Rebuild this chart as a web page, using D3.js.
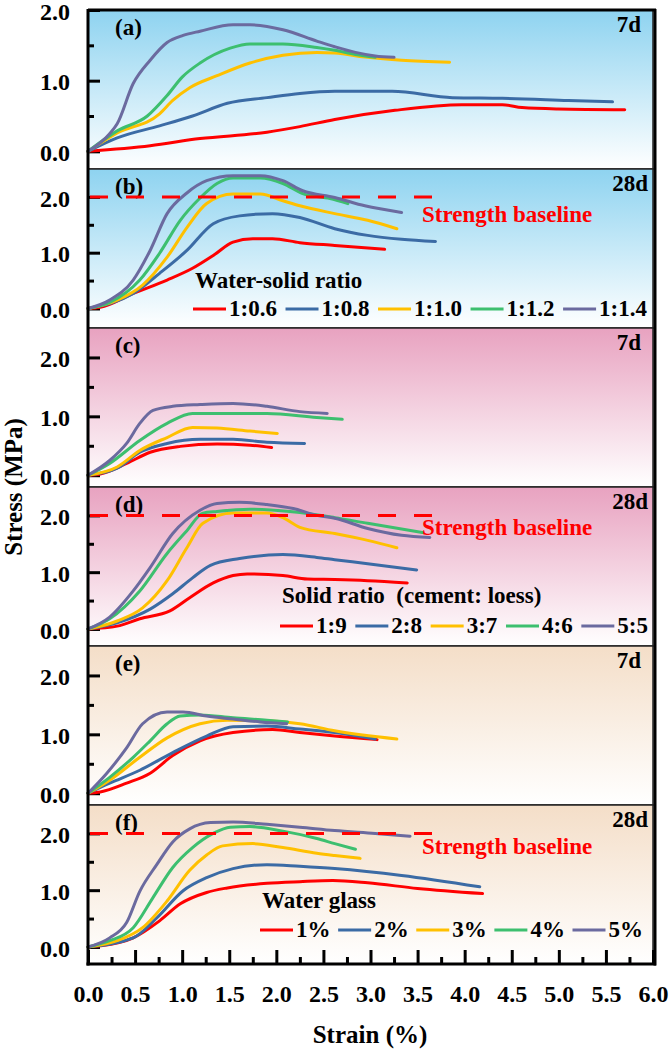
<!DOCTYPE html>
<html>
<head>
<meta charset="utf-8">
<script src="https://cdn.jsdelivr.net/npm/d3@7"></script>
<style>
  body { margin: 0; background: #fff; }
  text { font-family: "Liberation Serif", "Times New Roman", serif; font-weight: bold; }
</style>
</head>
<body>
<svg id="chart" width="670" height="1053"></svg>
<script>
// ---- data (strain %, stress MPa) ----
const strainTicks = d3.range(0, 6.001, 0.5);
const stressTicks = [0, 1, 2];
const seriesColors = ['#ff0000', '#3b6ba5', '#ffc000', '#3dbf6f', '#6b6a9f'];
const panelLabels = ['(a)', '(b)', '(c)', '(d)', '(e)', '(f)'];
const ageLabels = ['7d', '28d', '7d', '28d', '7d', '28d'];
const legendTitles = ['Water-solid ratio', 'Solid ratio  (cement: loess)', 'Water glass'];
const waterSolidKeys = ['1:0.6', '1:0.8', '1:1.0', '1:1.2', '1:1.4'];
const solidKeys = ['1:9', '2:8', '3:7', '4:6', '5:5'];
const glassKeys = ['1%', '2%', '3%', '4%', '5%'];
const baselineStress = 2.0;

const curvesA = [
  [[0,0],[0.66,0.08],[1.19,0.18],[1.90,0.27],[2.25,0.35],[2.62,0.45],[3.26,0.58],[3.97,0.66],[4.40,0.66],[4.61,0.62],[4.99,0.60],[5.70,0.59]],
  [[0,0],[0.31,0.19],[0.76,0.36],[1.11,0.50],[1.48,0.68],[1.90,0.76],[2.25,0.82],[2.62,0.85],[3.23,0.85],[3.87,0.76],[4.40,0.75],[5.10,0.72],[5.57,0.70]],
  [[0,0],[0.31,0.26],[0.76,0.53],[0.90,0.72],[1.08,0.90],[1.37,1.07],[1.72,1.25],[2.07,1.36],[2.43,1.40],[2.62,1.39],[2.97,1.33],[3.33,1.29],[3.84,1.26]],
  [[0,0],[0.31,0.29],[0.63,0.50],[0.84,0.79],[1.00,1.05],[1.19,1.25],[1.51,1.46],[1.72,1.52],[2.07,1.52],[2.43,1.47],[2.62,1.43],[2.84,1.37],[3.05,1.33]],
  [[0,0],[0.23,0.25],[0.31,0.39],[0.48,0.96],[0.66,1.29],[0.84,1.54],[1.01,1.64],[1.19,1.70],[1.54,1.79],[1.72,1.79],[2.07,1.72],[2.43,1.56],[2.62,1.48],[2.84,1.40],[3.05,1.35],[3.25,1.33]]
];
const curvesB = [
  [[0,0],[0.13,0.02],[0.48,0.27],[0.84,0.51],[1.11,0.72],[1.33,0.95],[1.54,1.19],[1.75,1.25],[1.96,1.25],[2.25,1.18],[2.62,1.13],[3.15,1.06]],
  [[0,0],[0.48,0.27],[0.76,0.63],[1.05,1.04],[1.33,1.52],[1.61,1.66],[1.96,1.70],[2.25,1.63],[2.62,1.43],[2.97,1.31],[3.33,1.24],[3.69,1.20]],
  [[0,0],[0.31,0.15],[0.58,0.42],[0.84,0.92],[1.05,1.45],[1.26,1.88],[1.54,2.05],[1.83,2.05],[2.07,1.93],[2.25,1.84],[2.62,1.70],[2.97,1.58],[3.28,1.43]],
  [[0,0],[0.23,0.11],[0.55,0.51],[0.76,0.99],[0.98,1.58],[1.19,1.98],[1.37,2.24],[1.54,2.34],[1.83,2.34],[2.07,2.24],[2.28,2.06],[2.57,1.97],[2.76,1.88]],
  [[0,0],[0.23,0.15],[0.48,0.51],[0.66,1.04],[0.84,1.70],[1.05,2.07],[1.26,2.29],[1.54,2.38],[1.83,2.38],[2.07,2.29],[2.28,2.11],[2.62,1.99],[2.94,1.84],[3.33,1.72]]
];
const curvesC = [
  [[0,0],[0.13,0.02],[0.41,0.20],[0.66,0.39],[0.98,0.49],[1.37,0.53],[1.72,0.51],[1.95,0.47]],
  [[0,0],[0.31,0.12],[0.55,0.39],[0.84,0.54],[1.19,0.61],[1.54,0.61],[1.90,0.56],[2.30,0.54]],
  [[0,0],[0.31,0.14],[0.55,0.42],[0.84,0.64],[1.11,0.81],[1.37,0.80],[1.72,0.75],[2.01,0.71]],
  [[0,0],[0.23,0.20],[0.55,0.59],[0.84,0.88],[1.11,1.05],[1.37,1.05],[1.90,1.05],[2.43,0.98],[2.70,0.95]],
  [[0,0],[0.23,0.25],[0.41,0.54],[0.55,0.88],[0.69,1.10],[0.90,1.17],[1.19,1.20],[1.54,1.22],[1.90,1.17],[2.25,1.08],[2.54,1.05]]
];
const curvesD = [
  [[0,0],[0.31,0.05],[0.55,0.18],[0.87,0.32],[1.08,0.55],[1.33,0.81],[1.54,0.94],[1.69,0.97],[2.07,0.94],[2.33,0.88],[2.62,0.87],[2.97,0.85],[3.39,0.81]],
  [[0,0],[0.31,0.11],[0.66,0.35],[0.90,0.62],[1.11,0.90],[1.30,1.12],[1.61,1.24],[2.07,1.31],[2.43,1.26],[2.62,1.22],[2.97,1.15],[3.49,1.04]],
  [[0,0],[0.31,0.14],[0.58,0.37],[0.84,0.85],[1.05,1.43],[1.22,1.86],[1.54,2.04],[1.90,2.04],[2.07,1.96],[2.25,1.79],[2.62,1.68],[2.97,1.56],[3.28,1.43]],
  [[0,0],[0.23,0.18],[0.55,0.67],[0.84,1.33],[1.05,1.73],[1.22,2.04],[1.37,2.07],[1.72,2.11],[2.25,2.05],[2.62,1.96],[2.97,1.86],[3.55,1.70]],
  [[0,0],[0.23,0.21],[0.48,0.67],[0.66,1.08],[0.90,1.68],[1.19,2.09],[1.37,2.21],[1.61,2.23],[1.90,2.19],[2.18,2.12],[2.43,2.00],[2.62,1.95],[2.97,1.77],[3.33,1.65],[3.63,1.61]]
];
const curvesE = [
  [[0,0],[0.13,0.02],[0.41,0.17],[0.66,0.34],[0.90,0.64],[1.19,0.89],[1.54,1.03],[1.96,1.08],[2.25,1.03],[2.62,0.97],[3.07,0.91]],
  [[0,0],[0.23,0.17],[0.55,0.39],[0.90,0.69],[1.26,0.97],[1.54,1.13],[1.90,1.14],[2.25,1.09],[2.62,1.03],[3.05,0.92]],
  [[0,0],[0.23,0.22],[0.55,0.61],[0.84,0.94],[1.19,1.18],[1.48,1.24],[1.90,1.23],[2.25,1.18],[2.62,1.06],[3.28,0.92]],
  [[0,0],[0.23,0.27],[0.48,0.61],[0.66,0.89],[0.84,1.18],[0.98,1.31],[1.19,1.33],[1.54,1.28],[1.90,1.24],[2.12,1.21]],
  [[0,0],[0.20,0.34],[0.41,0.77],[0.58,1.18],[0.84,1.38],[1.01,1.38],[1.26,1.31],[1.54,1.26],[1.83,1.21],[2.11,1.18]]
];
const curvesF = [
  [[0,0],[0.13,0.02],[0.48,0.16],[0.76,0.46],[0.98,0.76],[1.26,0.96],[1.48,1.04],[1.90,1.12],[2.25,1.15],[2.60,1.17],[2.97,1.13],[3.50,1.03],[4.19,0.94]],
  [[0,0],[0.48,0.16],[0.73,0.51],[1.01,0.99],[1.26,1.22],[1.54,1.38],[1.90,1.45],[2.25,1.42],[2.62,1.38],[3.33,1.26],[4.16,1.06]],
  [[0,0],[0.31,0.11],[0.58,0.34],[0.84,0.81],[1.08,1.35],[1.26,1.62],[1.43,1.78],[1.75,1.82],[2.07,1.75],[2.43,1.65],[2.62,1.61],[2.89,1.56]],
  [[0,0],[0.23,0.11],[0.48,0.34],[0.69,0.87],[0.90,1.40],[1.11,1.75],[1.33,2.00],[1.51,2.11],[1.72,2.12],[2.07,2.04],[2.43,1.91],[2.62,1.82],[2.84,1.72]],
  [[0,0],[0.23,0.16],[0.41,0.43],[0.55,0.98],[0.73,1.45],[0.90,1.85],[1.08,2.08],[1.30,2.19],[1.54,2.20],[1.90,2.16],[2.25,2.11],[2.62,2.05],[3.05,2.00],[3.42,1.95]]
];

// ---- layout ----
const plotLeft = 88, plotRight = 653, plotTop = 10, panelH = 159;
const plotBottom = plotTop + panelH * 6;

const panels = [
  { curves: curvesA, domain: [-0.25, 2.0], fill: '#8ed3f0' },
  { curves: curvesB, domain: [-0.35, 2.5], fill: '#8ed3f0', legend: 0, keys: waterSolidKeys, baseline: true,
    legendX: 193, legendR: 647, titleDy: 119, itemsDy: 147, textDy: 53 },
  { curves: curvesC, domain: [-0.2, 2.5], fill: '#e8a2c0' },
  { curves: curvesD, domain: [-0.3, 2.5], fill: '#e8a2c0', legend: 1, keys: solidKeys, baseline: true,
    legendX: 280, legendR: 648, titleDy: 116, itemsDy: 146, textDy: 48 },
  { curves: curvesE, domain: [-0.2, 2.5], fill: '#f4dec8' },
  { curves: curvesF, domain: [-0.3, 2.5], fill: '#f4dec8', legend: 2, keys: glassKeys, baseline: true,
    legendX: 260, legendR: 643, titleDy: 103, itemsDy: 132, textDy: 49 }
];

const svg = d3.select('#chart');
const defs = svg.append('defs');
const x = d3.scaleLinear().domain([0, 6]).range([plotLeft, plotRight]);

const line = d3.line()
  .x(d => x(d[0]))
  .y(d => d.y)
  .curve(d3.curveMonotoneX);

panels.forEach((p, i) => {
  const y0 = plotTop + i * panelH, y1 = y0 + panelH;
  const y = d3.scaleLinear().domain(p.domain).range([y1, y0]);

  const gradId = 'bg' + i;
  const grad = defs.append('linearGradient').attr('id', gradId)
    .attr('x1', 0).attr('y1', 0).attr('x2', 0).attr('y2', 1);
  grad.append('stop').attr('offset', '0%').attr('stop-color', p.fill);
  grad.append('stop').attr('offset', '100%').attr('stop-color', '#ffffff');

  const g = svg.append('g').attr('class', 'panel');
  g.append('rect')
    .attr('x', plotLeft).attr('y', y0)
    .attr('width', plotRight - plotLeft).attr('height', panelH)
    .attr('fill', `url(#${gradId})`)
    .attr('stroke', '#222').attr('stroke-width', 1.5);

  // y axis, major and minor ticks pointing inward
  const yAxis = g.append('g').attr('transform', `translate(${plotLeft},0)`)
    .call(d3.axisLeft(y).tickValues(stressTicks).tickSize(-12).tickPadding(18).tickFormat(d3.format('.1f')));
  yAxis.select('.domain').remove();
  yAxis.selectAll('line').attr('stroke', '#000').attr('stroke-width', 3);
  yAxis.selectAll('text').attr('font-size', 24).attr('fill', '#000').attr('dy', '0.38em')
    .style('font-family', '"Liberation Serif", serif').style('font-weight', 'bold');

  const yMinor = g.append('g').attr('transform', `translate(${plotLeft},0)`)
    .call(d3.axisLeft(y).tickValues([0.5, 1.5]).tickSize(-6).tickFormat(''));
  yMinor.select('.domain').remove();
  yMinor.selectAll('line').attr('stroke', '#000').attr('stroke-width', 3);

  // curves
  p.curves.forEach((c, k) => {
    g.append('path')
      .datum(c.map(d => Object.assign([d[0], d[1]], { y: y(d[1]) })))
      .attr('fill', 'none')
      .attr('stroke', seriesColors[k])
      .attr('stroke-width', 3)
      .attr('stroke-linecap', 'round')
      .attr('stroke-linejoin', 'round')
      .attr('d', line);
  });

  g.append('text').attr('x', 115).attr('y', y0 + 25)
    .attr('font-size', 23).text(panelLabels[i]);
  g.append('text').attr('x', i % 2 ? 648 : 641).attr('y', y0 + 22)
    .attr('text-anchor', 'end').attr('font-size', 23).text(ageLabels[i]);

  if (p.baseline) {
    g.append('line')
      .attr('x1', 90).attr('x2', 432)
      .attr('y1', y(baselineStress)).attr('y2', y(baselineStress))
      .attr('stroke', '#ff0000').attr('stroke-width', 3)
      .attr('stroke-dasharray', '18,18');
    g.append('text').attr('x', 422).attr('y', y0 + p.textDy)
      .attr('font-size', 23).attr('fill', '#ff0000').text('Strength baseline');
  }

  if (p.keys) {
    g.append('text').attr('x', p.legendX + 2).attr('y', y0 + p.titleDy)
      .attr('font-size', 23).style('white-space', 'pre').text(legendTitles[p.legend]);
    const ly = y0 + p.itemsDy;
    const items = p.keys.map((key, k) => {
      const it = g.append('g');
      it.append('line')
        .attr('x1', 0).attr('x2', 33)
        .attr('y1', ly - 7).attr('y2', ly - 7)
        .attr('stroke', seriesColors[k]).attr('stroke-width', 3);
      const t = it.append('text').attr('x', 36).attr('y', ly)
        .attr('font-size', 23).text(key);
      return { it, w: 36 + t.node().getComputedTextLength() };
    });
    // spread the items so the row ends where the reference row ends
    const used = d3.sum(items, d => d.w);
    const gap = (p.legendR - p.legendX - used) / (items.length - 1);
    let cx = p.legendX;
    items.forEach(d => {
      d.it.attr('transform', `translate(${cx},0)`);
      cx += d.w + gap;
    });
  }
});

// x axis on the bottom panel
const xAxis = svg.append('g').attr('transform', `translate(0,${plotBottom})`)
  .call(d3.axisBottom(x).tickValues(strainTicks).tickSize(-14).tickPadding(21).tickFormat(d3.format('.1f')));
xAxis.select('.domain').remove();
xAxis.selectAll('line').attr('stroke', '#000').attr('stroke-width', 3);
xAxis.selectAll('text').attr('font-size', 24).attr('fill', '#000')
  .style('font-family', '"Liberation Serif", serif').style('font-weight', 'bold');

const xMinor = svg.append('g').attr('transform', `translate(0,${plotBottom})`)
  .call(d3.axisBottom(x).tickValues(d3.range(0.25, 6, 0.5)).tickSize(-7).tickFormat(''));
xMinor.select('.domain').remove();
xMinor.selectAll('line').attr('stroke', '#000').attr('stroke-width', 3);

// outer frame
const frame = svg.append('g').attr('stroke', '#000').attr('stroke-width', 3);
frame.append('line').attr('x1', plotLeft).attr('x2', plotLeft).attr('y1', plotTop - 1).attr('y2', plotBottom + 1.5);
frame.append('line').attr('x1', plotLeft - 1.5).attr('x2', plotRight + 3).attr('y1', plotBottom).attr('y2', plotBottom);
frame.append('line').attr('x1', plotRight + 2).attr('x2', plotRight + 2).attr('y1', plotTop - 1).attr('y2', plotBottom + 1.5);
frame.append('line').attr('x1', plotLeft).attr('x2', plotRight + 3).attr('y1', plotTop).attr('y2', plotTop);

// axis titles
svg.append('text').attr('x', 370).attr('y', 1043)
  .attr('text-anchor', 'middle').attr('font-size', 25).text('Strain (%)');
svg.append('text').attr('transform', `translate(22,${(plotTop + plotBottom) / 2}) rotate(-90)`)
  .attr('text-anchor', 'middle').attr('font-size', 25).text('Stress (MPa)');
</script>
</body>
</html>
